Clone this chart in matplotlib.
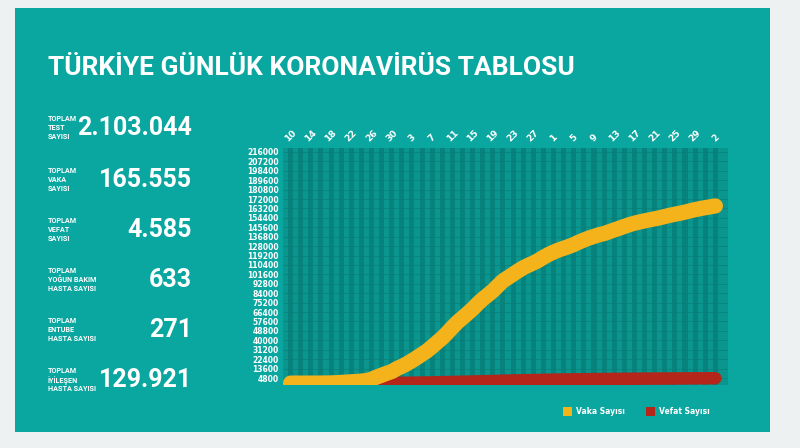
import matplotlib
matplotlib.use("Agg")
import matplotlib.pyplot as plt
from matplotlib.patches import Rectangle

days = ["10","11","12","13","14","15","16","17","18","19","20","21","22","23","24","25","26","27","28","29","30","31",
        "1","2","3","4","5","6","7","8","9","10","11","12","13","14","15","16","17","18","19","20","21","22","23","24","25","26","27","28","29","30",
        "1","2","3","4","5","6","7","8","9","10","11","12","13","14","15","16","17","18","19","20","21","22","23","24","25","26","27","28","29","30","31",
        "1","2"]
cases = [0,1,1,5,6,18,47,98,191,359,670,947,1236,1529,1872,2433,3629,5698,7402,9217,10827,13531,
         15679,18135,20921,23934,27069,30217,34109,38226,42282,47029,52167,56956,61049,65111,69392,74193,78546,82329,86306,90980,95591,98674,101790,104912,107773,110130,112261,114653,117589,120204,
         122392,124375,126045,127659,129491,131744,133721,135569,137115,138657,139771,141475,143114,144749,146457,148067,149435,150593,151615,152587,153548,154500,155686,156827,157814,158762,159797,160979,162120,163103,163942,
         164769,165555]
deaths = [0,0,0,0,0,0,0,1,2,4,9,21,30,37,44,59,75,92,108,131,168,214,
          277,356,425,501,574,649,725,812,908,1006,1101,1198,1296,1403,1518,1643,1769,1890,2017,2140,2259,2376,2491,2600,2706,2805,2900,2992,3081,3174,
          3258,3336,3397,3461,3520,3584,3641,3689,3739,3786,3841,3894,3952,4007,4055,4096,4140,4171,4199,4222,4249,4276,4308,4340,4369,4397,4431,4461,4489,4515,4540,
          4563,4585]
yticks = list(range(4800, 216001, 8800))
stats_labels = ["TOPLAM\nTEST\nSAYISI", "TOPLAM\nVAKA\nSAYISI", "TOPLAM\nVEFAT\nSAYISI",
                "TOPLAM\nYOĞUN BAKIM\nHASTA SAYISI", "TOPLAM\nENTUBE\nHASTA SAYISI", "TOPLAM\nİYİLEŞEN\nHASTA SAYISI"]
stats_values = ["2.103.044", "165.555", "4.585", "633", "271", "129.921"]

TEAL = "#0aa6a0"
fig = plt.figure(figsize=(8, 4.48), dpi=100)
fig.patch.set_facecolor("#eef1f1")
fig.patches.append(Rectangle((15/800, 1-432/448), 755/800, 424/448, transform=fig.transFigure,
                             facecolor=TEAL, edgecolor="none", zorder=-5))
fig.text(48/800, 1-68/448, "TÜRKİYE GÜNLÜK KORONAVİRÜS TABLOSU", color="white",
         fontsize=19, fontweight="bold", family="Roboto", va="center")

ys = [128, 180, 230, 280, 330, 380]
for lab, val, y in zip(stats_labels, stats_values, ys):
    fig.text(48/800, 1-y/448, lab, color="white", fontsize=5.2, fontweight="bold",
             va="center", ha="left", linespacing=1.1, family="Roboto")
    fig.text(192/800, 1-y/448, val, color="white", fontsize=18, fontweight="bold",
             va="center", ha="right", family="Roboto")

ax = fig.add_axes([283/800, 1-385/448, 445/800, 237/448], zorder=2)
ax.set_facecolor("#0a958f")
n = len(cases)
for i in range(n):
    if i % 2 == 0:
        ax.axvspan(i-0.5, i+0.5, color="#08827d", lw=0, zorder=0)
for y in yticks:
    ax.axhline(y, color="#087c77", lw=0.4, zorder=0.5)
x = list(range(n))
ax.plot(x, deaths, color="#b5261a", lw=9, solid_capstyle="round", zorder=2)
ax.plot(x, cases, color="#f5b31b", lw=11, solid_capstyle="round", zorder=3)
ax.set_xlim(-1.5, n+1.5)
ax.set_ylim(-1740, 219700)
ax.set_yticks(yticks)
ax.set_yticklabels([str(v) for v in yticks], color="white", fontsize=5.5, fontweight="bold")
tick_idx = list(range(0, n, 4))
ax.set_xticks(tick_idx)
ax.set_xticklabels([days[i] for i in tick_idx], rotation=45, color="white", fontsize=6.5, fontweight="bold")
ax.xaxis.tick_top()
ax.tick_params(length=0, pad=3)
for s in ax.spines.values():
    s.set_visible(False)

fig.patches.append(Rectangle((563/800, 1-416/448), 9/800, 9/448, transform=fig.transFigure,
                             facecolor="#f5b31b", edgecolor="none"))
fig.text(576/800, 1-411.5/448, "Vaka Sayısı", color="white", fontsize=5.5, fontweight="bold", va="center")
fig.patches.append(Rectangle((646/800, 1-416/448), 9/800, 9/448, transform=fig.transFigure,
                             facecolor="#b5261a", edgecolor="none"))
fig.text(659/800, 1-411.5/448, "Vefat Sayısı", color="white", fontsize=5.5, fontweight="bold", va="center")

fig.savefig("out.png", dpi=100, facecolor=fig.get_facecolor())
